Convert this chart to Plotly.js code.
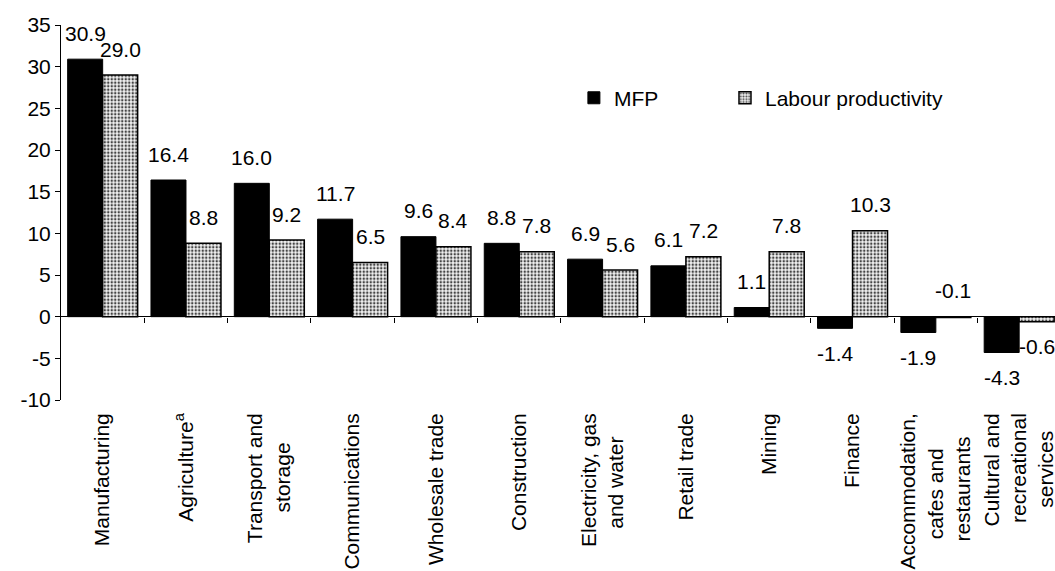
<!DOCTYPE html>
<html>
<head>
<meta charset="utf-8">
<script src="https://cdn.plot.ly/plotly-3.0.1.min.js"></script>
<style>html,body{margin:0;padding:0;background:#fff;}#chart{width:1055px;height:571px;}</style>
</head>
<body>
<div id="chart"></div>
<script>
const categories = [
  "Manufacturing",
  "Agriculture<sup>a</sup>",
  "Transport and<br>storage",
  "Communications",
  "Wholesale trade",
  "Construction",
  "Electricity, gas<br>and water",
  "Retail trade",
  "Mining",
  "Finance",
  "Accommodation,<br>cafes and<br>restaurants",
  "Cultural and<br>recreational<br>services"
];
const mfp = [30.9, 16.4, 16.0, 11.7, 9.6, 8.8, 6.9, 6.1, 1.1, -1.4, -1.9, -4.3];
const labour = [29.0, 8.8, 9.2, 6.5, 8.4, 7.8, 5.6, 7.2, 7.8, 10.3, -0.1, -0.6];
const yTicks = [-10, -5, 0, 5, 10, 15, 20, 25, 30, 35];

const FONT = "Arial, 'Liberation Sans', sans-serif";
const FS = 21;
const bargap = 0.16;
const off = (1 - bargap) / 4;

const idx = categories.map((_, i) => i);

// centre the lines of multi-line (rotated, end-anchored) tick labels
const ctx = document.createElement('canvas').getContext('2d');
ctx.font = FS + "px 'Liberation Sans', Arial, sans-serif";
const nbspW = ctx.measureText('\u00a0').width || FS * 0.278;
function centreLines(lbl) {
  const lines = lbl.split('<br>');
  if (lines.length < 2) return lbl;
  const widths = lines.map(l => ctx.measureText(l.replace(/<[^>]+>/g, '')).width);
  const maxW = Math.max.apply(null, widths);
  return lines.map((l, k) => l + '\u00a0'.repeat(Math.round((maxW - widths[k]) / 2 / nbspW))).join('<br>');
}
const tickText = categories.map(centreLines);

const traces = [
  {
    type: 'bar', name: 'MFP', x: idx, y: mfp, legend: 'legend',
    marker: {color: '#000000', line: {color: '#000000', width: 1}},
    hoverinfo: 'skip'
  },
  {
    type: 'bar', name: 'Labour productivity', x: idx, y: labour, legend: 'legend2',
    marker: {
      color: '#ffffff',
      line: {color: '#000000', width: 1.5},
      pattern: {shape: '.', size: 3.5, solidity: 0.4, fgcolor: '#444444', bgcolor: '#f2f2f2'}
    },
    hoverinfo: 'skip'
  },
  {
    type: 'scatter', mode: 'markers', x: idx, y: idx.map(() => null),
    xaxis: 'x2', yaxis: 'y', showlegend: false, hoverinfo: 'skip'
  }
];

function label(v, xpos) {
  const above = v >= 0 || v > -0.5;
  return {
    x: xpos, y: above ? Math.max(v, 0) : v, xref: 'x', yref: 'y',
    text: v.toFixed(1), showarrow: false,
    yanchor: 'middle', yshift: above ? 26 : -25,
    font: {family: FONT, size: FS, color: '#000'}
  };
}
const annotations = [];
mfp.forEach((v, i) => annotations.push(label(v, i - off)));
labour.forEach((v, i) => annotations.push(label(v, i + off)));

const legendStyle = {
  orientation: 'h', xanchor: 'left', y: 0.805, yanchor: 'middle',
  font: {family: FONT, size: FS, color: '#000'}, bgcolor: 'rgba(0,0,0,0)'
};

const xr = [-0.5, 11.43];
const layout = {
  width: 1055, height: 571,
  margin: {l: 61, r: 0, t: 25, b: 171},
  paper_bgcolor: '#fff', plot_bgcolor: '#fff',
  font: {family: FONT, size: FS, color: '#000'},
  barmode: 'group', bargap: bargap, bargroupgap: 0,
  showlegend: true,
  legend: Object.assign({x: 0.516}, legendStyle),
  legend2: Object.assign({x: 0.668}, legendStyle),
  xaxis: {
    type: 'linear', range: xr, tickmode: 'array', tickvals: idx, ticktext: tickText,
    tickangle: -90, ticks: '', showline: false, showgrid: false, zeroline: false,
    ticklabeloverflow: 'allow', ticklabelstandoff: 8,
    tickfont: {family: FONT, size: FS, color: '#000'}, fixedrange: true
  },
  xaxis2: {
    type: 'linear', overlaying: 'x', anchor: 'free', position: 10 / 45, range: xr,
    tickmode: 'array', tickvals: idx.slice(1).map(i => i - 0.5),
    ticks: 'outside', ticklen: 5, tickwidth: 1, tickcolor: '#000',
    showticklabels: false, showline: false, showgrid: false, zeroline: false
  },
  yaxis: {
    range: [-10, 35], tickmode: 'array', tickvals: yTicks, ticktext: yTicks.map(String),
    ticks: 'outside', ticklen: 5, tickcolor: '#000', showline: true, linecolor: '#000', linewidth: 1,
    showgrid: false, zeroline: true, zerolinecolor: '#000', zerolinewidth: 1,
    tickfont: {family: FONT, size: FS, color: '#000'}
  },
  annotations: annotations
};

Plotly.newPlot('chart', traces, layout, {staticPlot: true});
</script>
</body>
</html>
